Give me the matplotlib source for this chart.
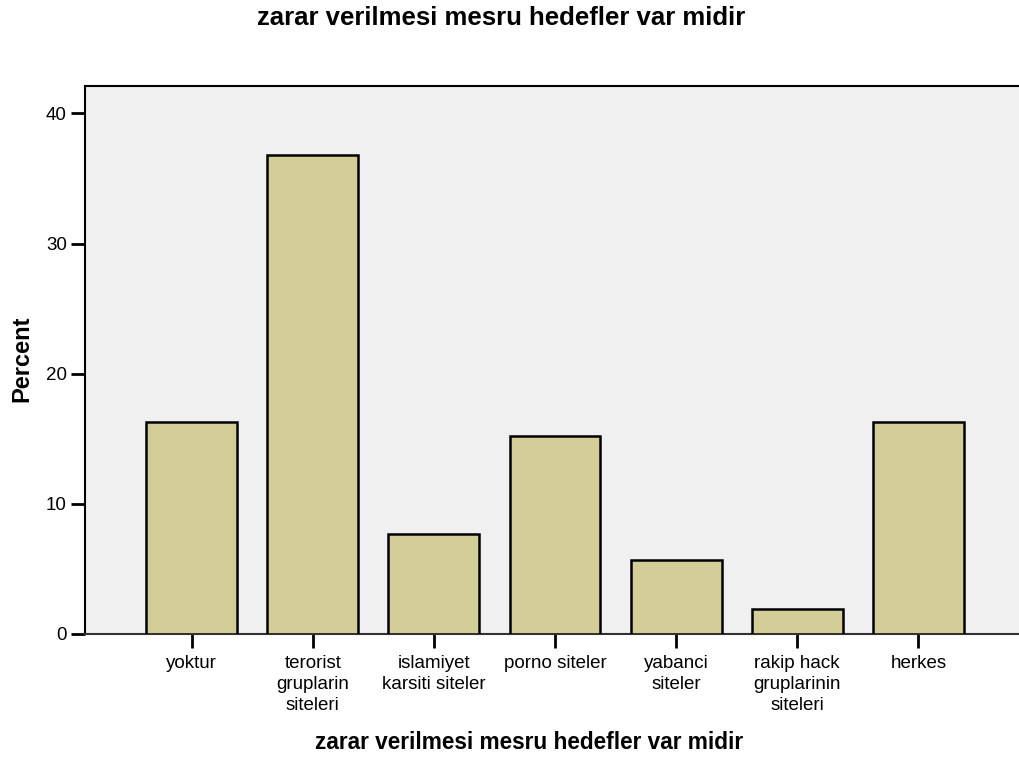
import matplotlib
matplotlib.use("Agg")
import matplotlib.pyplot as plt
from matplotlib import font_manager as fm

categories = ["yoktur", "terorist\ngruplarin\nsiteleri", "islamiyet\nkarsiti siteler",
              "porno siteler", "yabanci\nsiteler", "rakip hack\ngruplarinin\nsiteleri", "herkes"]
percent = [16.3, 36.8, 7.7, 15.2, 5.7, 1.9, 16.3]
y_ticks = [0, 10, 20, 30, 40]
title = 'zarar verilmesi mesru hedefler var midir'

plt.rcParams['font.family'] = ['Liberation Sans', 'DejaVu Sans']

def fp(size, bold=False):
    return fm.FontProperties(family=['Liberation Sans', 'DejaVu Sans'], size=size,
                             weight='bold' if bold else 'normal')

fig = plt.figure(figsize=(10.19, 7.58), dpi=100)
ax = fig.add_axes([0.0834, 1 - 634 / 758, 1 - 0.0834, (634 - 86) / 758])
ax.set_facecolor('#F0F0F0')
x = list(range(len(categories)))
ax.bar(x, percent, width=0.75, color='#D3CE97', edgecolor='black', linewidth=1.8, zorder=3)
ax.set_xlim(-0.88, 6.83)
ax.set_ylim(0, 42.1)
ax.set_yticks(y_ticks)
ax.set_yticklabels([str(v) for v in y_ticks], fontproperties=fp(13.5))
ax.set_xticks(x)
ax.set_xticklabels(categories, fontproperties=fp(13.5), linespacing=1.32, va='top')
ax.tick_params(axis='both', direction='out', length=10, width=2, color='black')
ax.tick_params(axis='x', pad=5)
ax.tick_params(axis='y', pad=3)
ax.spines['right'].set_visible(False)
for s in ['left', 'top', 'bottom']:
    ax.spines[s].set_linewidth(1.5)
    ax.spines[s].set_color('black')
ax.spines['bottom'].set_color('#333333')

fig.text(22 / 1019, 1 - 358.5 / 758, 'Percent', rotation=90, fontproperties=fp(17, True),
         ha='center', va='center')
fig.text(529.5 / 1019, 1 - 749 / 758, title, fontproperties=fp(16.3, True),
         ha='center', va='baseline')
fig.text(501.5 / 1019, 1 - 25 / 758, title, fontproperties=fp(18.5, True),
         ha='center', va='baseline')
fig.savefig('out.png', dpi=100)
